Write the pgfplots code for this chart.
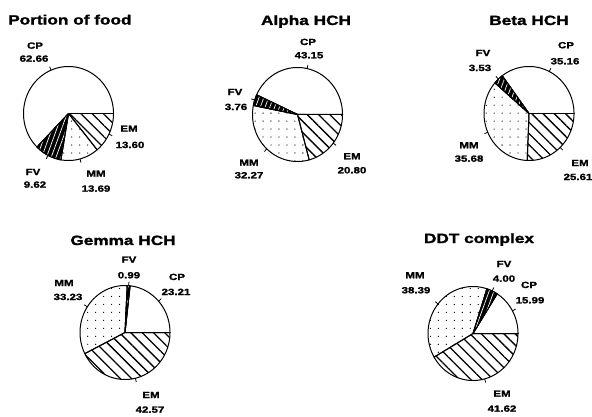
\documentclass[border=0pt]{standalone}
\usepackage{pgfplots}
\pgfplotsset{compat=1.18}
\usetikzlibrary{patterns.meta}
\usepackage{fontspec}
\setmainfont{Liberation Sans}
\newfontfamily\chartfont[FakeStretch=1.28, BoldFeatures={FakeBold=1.6}]{Liberation Sans}

\tikzset{
  cp/.style={fill=white},
  fv/.style={fill=black, postaction={pattern={Lines[angle=70,distance=4.5pt,line width=0.7pt]}, pattern color=white}},
  mm/.style={pattern={Dots[distance=8pt,radius=0.65pt]}},
  em/.style={pattern={Lines[angle=-45,distance=8pt,line width=1.3pt]}},
  lab/.style={anchor=base,inner sep=0pt,font=\chartfont\bfseries\fontsize{9}{9}\selectfont},
  ttl/.style={anchor=base,inner sep=0pt,font=\chartfont\bfseries\fontsize{13.5}{13.5}\selectfont},
}
\pgfplotsset{
  pie/.style={hide axis, scale only axis, width=90bp, height=94bp,
    xmin=-1, xmax=1, ymin=-1, ymax=1, clip=false, anchor=center},
  wedge/.style={draw=black, line width=1pt, line join=round},
}

% slices CP, FV, MM, EM (percent), counter-clockwise from 3 o'clock
\newcommand\pie[4]{%
  \addplot[wedge, cp, domain=0:3.6*#1, samples=91] ({cos(x)},{sin(x)}) -- (0,0) -- cycle;
  \addplot[wedge, fv, domain=3.6*#1:3.6*(#1+#2), samples=21] ({cos(x)},{sin(x)}) -- (0,0) -- cycle;
  \addplot[wedge, mm, domain=3.6*(#1+#2):3.6*(#1+#2+#3), samples=61] ({cos(x)},{sin(x)}) -- (0,0) -- cycle;
  \addplot[wedge, em, domain=3.6*(#1+#2+#3):360, samples=61] ({cos(x)},{sin(x)}) -- (0,0) -- cycle;
  % short marks at the middle of each slice
  \addplot[black, line width=0.8pt, domain=1:1.08, samples=2] ({x*cos(1.8*#1)},{x*sin(1.8*#1)});
  \addplot[black, line width=0.8pt, domain=1:1.08, samples=2] ({x*cos(3.6*#1+1.8*#2)},{x*sin(3.6*#1+1.8*#2)});
  \addplot[black, line width=0.8pt, domain=1:1.08, samples=2] ({x*cos(3.6*(#1+#2)+1.8*#3)},{x*sin(3.6*(#1+#2)+1.8*#3)});
  \addplot[black, line width=0.8pt, domain=1:1.08, samples=2] ({x*cos(3.6*(#1+#2+#3)+1.8*#4)},{x*sin(3.6*(#1+#2+#3)+1.8*#4)});
}
\newcommand\lab[3]{\node[lab] at (#1,{416-#2}) {#3};}

\begin{document}
\begin{tikzpicture}[x=1bp,y=1bp]
\path[use as bounding box] (0,0) rectangle (592,416);

% Portion of food
\begin{axis}[pie, at={(68.5bp,302.5bp)}]
  \pie{62.66}{9.62}{13.69}{13.60}
\end{axis}
% Alpha HCH
\begin{axis}[pie, at={(297.5bp,301.5bp)}]
  \pie{43.15}{3.76}{32.27}{20.80}
\end{axis}
% Beta HCH
\begin{axis}[pie, at={(529bp,302.5bp)}]
  \pie{35.16}{3.53}{35.68}{25.61}
\end{axis}
% Gemma HCH
\begin{axis}[pie, at={(125bp,83.5bp)}]
  \pie{23.21}{0.99}{33.23}{42.57}
\end{axis}
% DDT complex
\begin{axis}[pie, at={(473bp,82.5bp)}]
  \pie{15.99}{4.00}{38.39}{41.62}
\end{axis}

\node[ttl, anchor=base west] at (8,{416-24.5}) {Portion of food};
\node[ttl] at (306,{416-25}) {Alpha HCH};
\node[ttl] at (529,{416-25}) {Beta HCH};
\node[ttl] at (123,{416-245}) {Gemma HCH};
\node[ttl] at (479,{416-243}) {DDT complex};

\lab{35}{48.7}{CP}   \lab{34}{61.7}{62.66}
\lab{129}{131.7}{EM} \lab{130}{148}{13.60}
\lab{33}{175}{FV}    \lab{35}{187.7}{9.62}
\lab{96}{176.7}{MM}  \lab{96}{191.7}{13.69}

\lab{308}{45}{CP}    \lab{309}{58.3}{43.15}
\lab{235}{95}{FV}    \lab{236}{110}{3.76}
\lab{249}{165.7}{MM} \lab{249}{178.3}{32.27}
\lab{352}{159.3}{EM} \lab{352}{173.3}{20.80}

\lab{483}{56}{FV}    \lab{480}{71}{3.53}
\lab{566}{48.3}{CP}  \lab{565}{64.3}{35.16}
\lab{469}{148.3}{MM} \lab{469}{161.7}{35.68}
\lab{580}{166}{EM}   \lab{578}{180}{25.61}

\lab{64}{286}{MM}    \lab{68}{300}{33.23}
\lab{129}{262.7}{FV} \lab{129}{278.3}{0.99}
\lab{177}{280}{CP}   \lab{176}{295}{23.21}
\lab{151}{398}{EM}   \lab{150}{412.7}{42.57}

\lab{415}{278.3}{MM} \lab{416}{293.3}{38.39}
\lab{504}{267}{FV}   \lab{504}{281.7}{4.00}
\lab{529}{288}{CP}   \lab{530}{303.3}{15.99}
\lab{502}{396.7}{EM} \lab{502}{411.7}{41.62}
\end{tikzpicture}
\end{document}
